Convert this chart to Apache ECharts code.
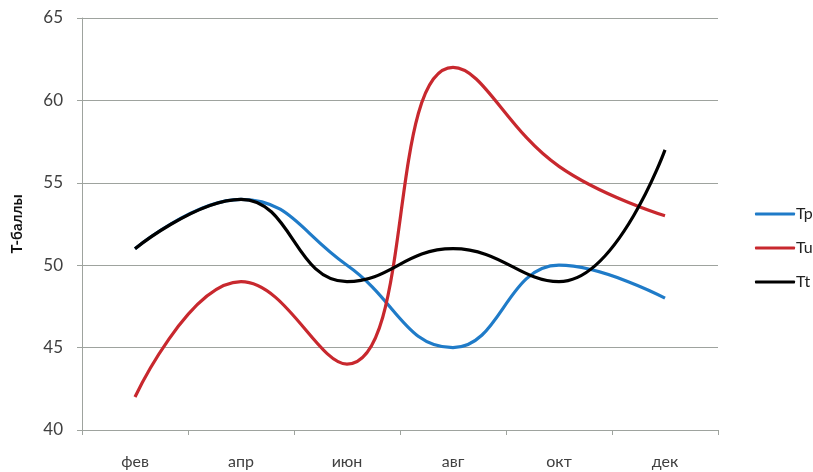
<!DOCTYPE html>
<html>
<head>
<meta charset="utf-8">
<script src="https://cdn.jsdelivr.net/npm/echarts@6/dist/echarts.min.js"></script>
<style>html,body{margin:0;padding:0;background:#fff}#c{width:813px;height:472px}</style>
</head>
<body>
<div id="c"></div>
<script>
var categories = ['фев', 'апр', 'июн', 'авг', 'окт', 'дек'];
var tp = [51, 54, 50, 45, 50, 48];
var tu = [42, 49, 44, 62, 56, 53];
var tt = [51, 54, 49, 51, 49, 57];
var yTicks = {min: 40, max: 65, interval: 5};

var font = 'Lato';
var chart = echarts.init(document.getElementById('c'));
function line(name, data, color) {
  return {
    name: name, type: 'line', data: data, smooth: 0.45,
    symbol: 'none', lineStyle: {width: 3.2, color: color}, itemStyle: {color: color}
  };
}
chart.setOption({
  animation: false,
  textStyle: {fontFamily: font},
  grid: {left: 82, right: 95, top: 18, bottom: 42, containLabel: false, outerBoundsMode: 'none'},
  legend: {
    orient: 'vertical', left: 750, top: 201,
    itemWidth: 40, itemHeight: 3, itemGap: 18, icon: 'roundRect',
    textStyle: {fontFamily: font, fontSize: 16, color: '#222', padding: [0,0,0,-4]},
    data: ['Tp', 'Tu', 'Tt']
  },
  xAxis: {
    type: 'category', data: categories, boundaryGap: true,
    axisLine: {lineStyle: {color: '#9ea39e', width: 1}},
    axisTick: {show: true, length: 5, lineStyle: {color: '#9ea39e'}},
    axisLabel: {fontFamily: font, fontSize: 16, color: '#404040', margin: 24}
  },
  yAxis: {
    type: 'value', min: yTicks.min, max: yTicks.max, interval: yTicks.interval,
    name: 'Т-баллы', nameLocation: 'middle', nameGap: 57, nameRotate: 90,
    nameTextStyle: {fontFamily: font, fontSize: 15, fontWeight: 'bold', color: '#111'},
    axisLine: {show: true, lineStyle: {color: '#9ea39e', width: 1}},
    axisTick: {show: true, length: 5, lineStyle: {color: '#9ea39e'}},
    axisLabel: {fontFamily: font, fontSize: 17, color: '#404040', margin: 19},
    splitLine: {lineStyle: {color: '#9ea39e', width: 1}}
  },
  series: [
    line('Tp', tp, '#1f7bc8'),
    line('Tu', tu, '#c8282e'),
    line('Tt', tt, '#000000')
  ]
});
</script>
</body>
</html>
